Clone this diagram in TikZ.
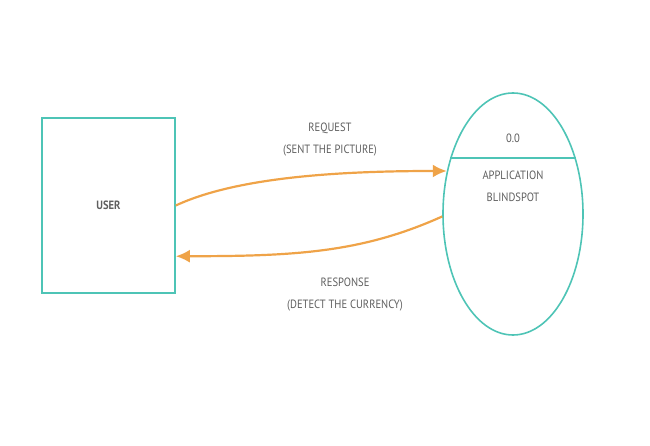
\documentclass[tikz,border=0pt]{standalone}
\usepackage{fontspec}
\setmainfont{PT Sans}[FakeStretch=0.88]
\usepackage{xcolor}
\usetikzlibrary{positioning}
\usetikzlibrary{shapes}
\usetikzlibrary{arrows.meta}
\definecolor{tealline}{RGB}{78,196,182}
\definecolor{flowline}{RGB}{239,163,72}
\definecolor{labelgray}{RGB}{95,95,95}
\tikzset{
  entity/.style={draw=tealline, line width=1.6pt, minimum width=133pt,
    minimum height=175pt, inner sep=0pt, text=labelgray,
    font=\fontsize{12}{14}\selectfont\bfseries},
  process/.style={ellipse, draw=tealline, line width=1.6pt, minimum width=140pt,
    minimum height=242pt, inner sep=0pt},
  divider/.style={color=tealline, line width=2pt},
  flow/.style={draw=flowline, line width=2.2pt, -{Latex[length=14pt,width=13pt]}},
  lbl/.style={font=\fontsize{12}{22}\selectfont, text=labelgray, align=center}
}

\begin{document}
\begin{tikzpicture}[x=1pt,y=-1pt]
  \useasboundingbox (0,0) rectangle (650,446);
  % external entity and process
  \node[entity] (user) at (108.5,205.5) {USER};
  \node[process] (app) at (513,214) {};
  \draw[divider] (app.138) -- (app.42);
  \node[lbl] (appid) at (513,138) {0.0};
  \node[lbl] (appname) at (513,186) {APPLICATION\\BLINDSPOT};
  % data flows
  \draw[flow] (user.east) .. controls +(60,-28) and +(-110,0) .. (app.147);
  \draw[flow] (app.182) .. controls +(-80,36) and +(120,0) .. (user.-37);
  \node[lbl] (req) at (330,140) {REQUEST\\(SENT THE PICTURE)};
  \node[lbl] (resp) at (345,295) {RESPONSE\\(DETECT THE CURRENCY)};
\end{tikzpicture}
\end{document}
